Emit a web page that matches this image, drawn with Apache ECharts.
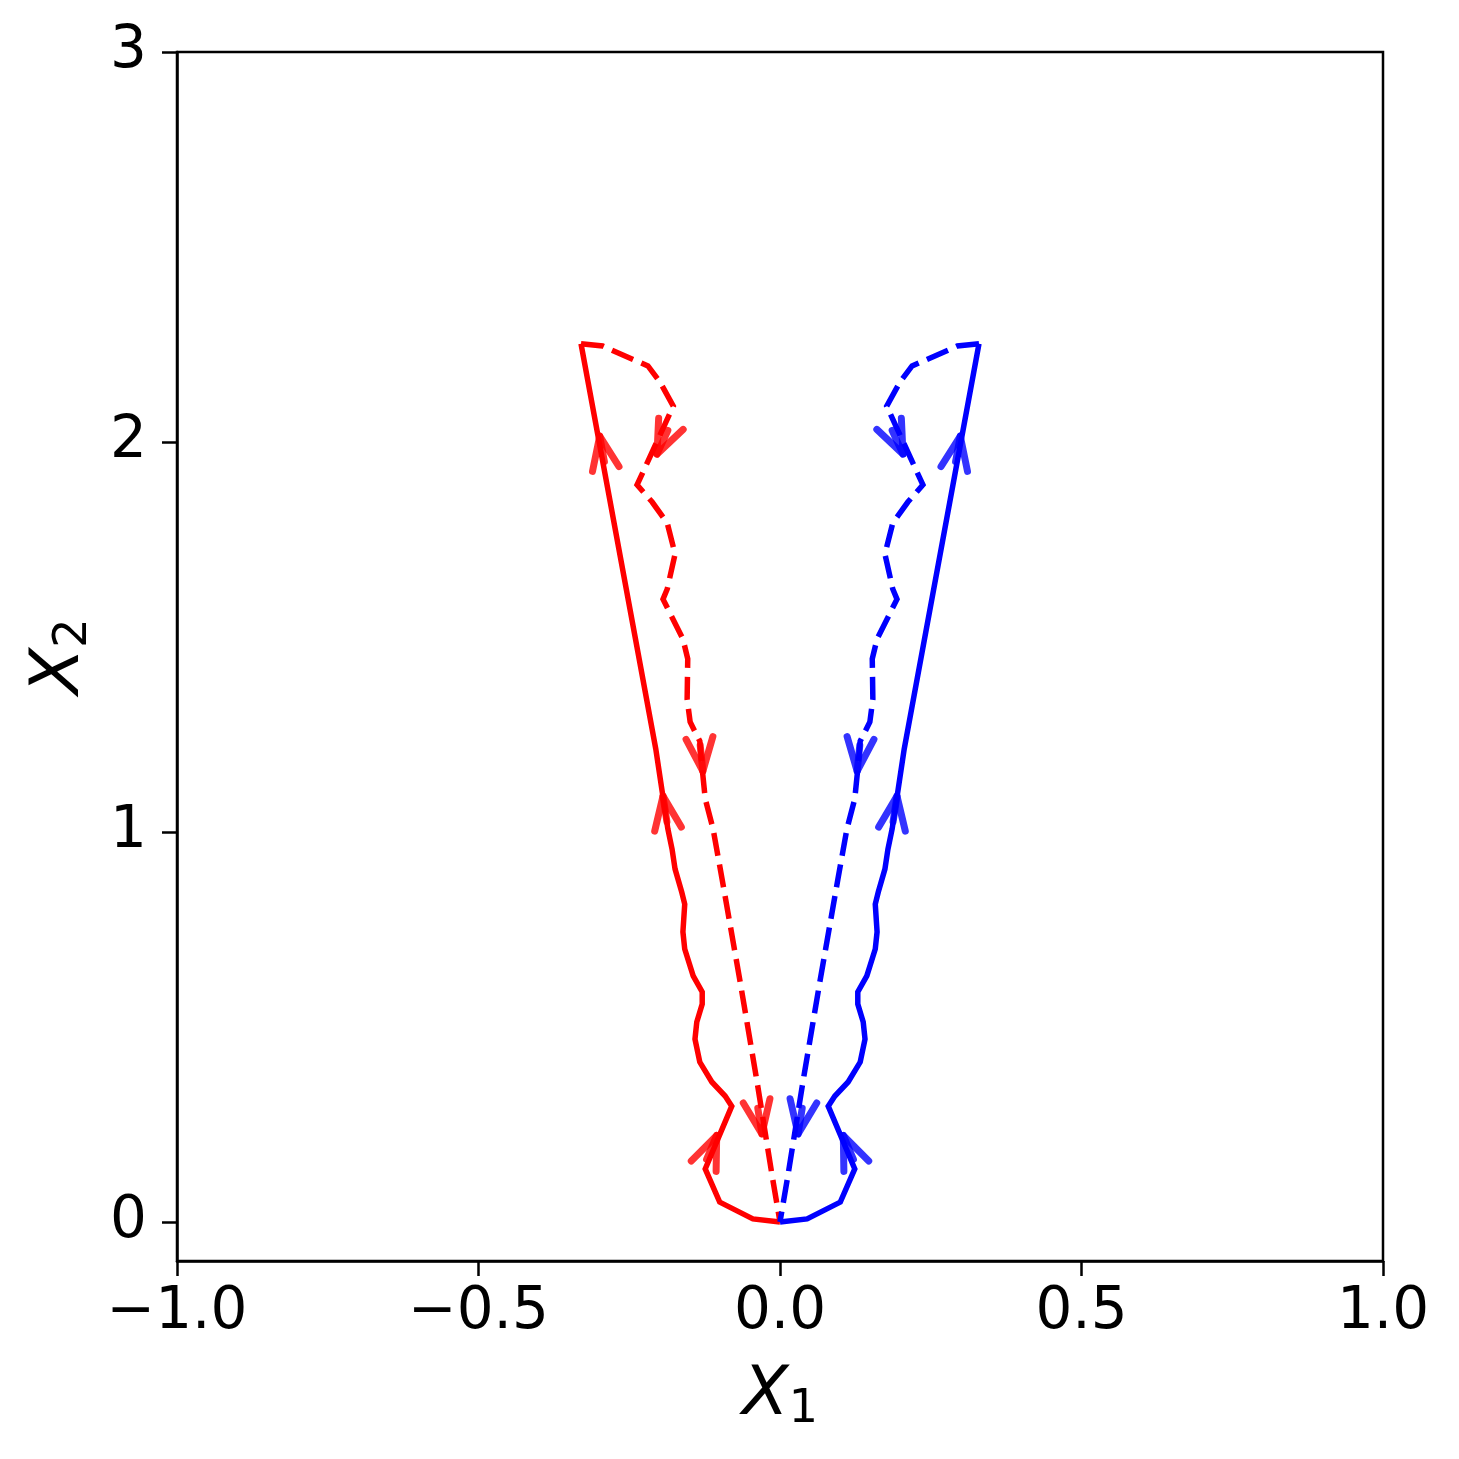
<!DOCTYPE html>
<html>
<head>
<meta charset="utf-8">
<script src="https://cdn.jsdelivr.net/npm/echarts@6/dist/echarts.min.js"></script>
<style>
  html, body { margin: 0; padding: 0; background: #fff; }
  #chart { width: 1459px; height: 1459px; }
</style>
</head>
<body>
<div id="chart"></div>
<script>
// red trajectory: solid goes out from the origin, dashed comes back
const redSolid = [
  [0, 0], [-0.045, 0.008], [-0.100, 0.051], [-0.124, 0.136], [-0.080, 0.297],
  [-0.091, 0.323], [-0.113, 0.359], [-0.133, 0.410], [-0.141, 0.469], [-0.138, 0.513],
  [-0.129, 0.559], [-0.129, 0.590], [-0.144, 0.631], [-0.158, 0.700], [-0.161, 0.744],
  [-0.158, 0.815], [-0.163, 0.846], [-0.174, 0.905], [-0.179, 0.956], [-0.186, 1.008],
  [-0.196, 1.110], [-0.206, 1.213], [-0.330, 2.252]
]
const redDashed = [
  [-0.330, 2.252], [-0.294, 2.246], [-0.219, 2.195], [-0.199, 2.154], [-0.177, 2.092],
  [-0.237, 1.890], [-0.212, 1.846], [-0.187, 1.792], [-0.174, 1.713], [-0.187, 1.623],
  [-0.194, 1.597], [-0.161, 1.495], [-0.153, 1.444], [-0.154, 1.341], [-0.149, 1.282],
  [-0.133, 1.233], [-0.129, 1.162], [-0.124, 1.085], [-0.111, 1.008], [-0.096, 0.879],
  [-0.066, 0.615], [-0.038, 0.359], [-0.013, 0.118], [0, 0]
]
// blue trajectory (mirror image on the right)
const blueSolid = [
  [0, 0], [0.045, 0.008], [0.100, 0.051], [0.124, 0.136], [0.080, 0.297],
  [0.091, 0.323], [0.113, 0.359], [0.133, 0.410], [0.141, 0.469], [0.138, 0.513],
  [0.129, 0.559], [0.129, 0.590], [0.144, 0.631], [0.158, 0.700], [0.161, 0.744],
  [0.158, 0.815], [0.163, 0.846], [0.174, 0.905], [0.179, 0.956], [0.186, 1.008],
  [0.196, 1.110], [0.206, 1.213], [0.330, 2.252]
]
const blueDashed = [
  [0.330, 2.252], [0.294, 2.246], [0.219, 2.195], [0.199, 2.154], [0.177, 2.092],
  [0.237, 1.890], [0.212, 1.846], [0.187, 1.792], [0.174, 1.713], [0.187, 1.623],
  [0.194, 1.597], [0.161, 1.495], [0.153, 1.444], [0.154, 1.341], [0.149, 1.282],
  [0.133, 1.233], [0.129, 1.162], [0.124, 1.085], [0.111, 1.008], [0.096, 0.879],
  [0.066, 0.615], [0.038, 0.359], [0.013, 0.118], [0, 0]
]
// arrow tips along each path
const redSolidArrows = [[-0.105, 0.222], [-0.194, 1.092], [-0.299, 2.015]]
const redDashedArrows = [[-0.204, 1.969], [-0.128, 1.156], [-0.030, 0.226]]
const blueSolidArrows = [[0.105, 0.222], [0.194, 1.092], [0.299, 2.015]]
const blueDashedArrows = [[0.204, 1.969], [0.128, 1.156], [0.030, 0.226]]

const yTicks = [0, 1, 2, 3]

const FONT = 'DejaVu Sans'
const HEAD = 36
const SHAFT = 26
const HALF_ANGLE = 22 * Math.PI / 180

function segDist(p, a, b) {
  const vx = b[0] - a[0], vy = b[1] - a[1]
  const l2 = vx * vx + vy * vy || 1
  let t = ((p[0] - a[0]) * vx + (p[1] - a[1]) * vy) / l2
  t = Math.max(0, Math.min(1, t))
  return Math.hypot(p[0] - a[0] - t * vx, p[1] - a[1] - t * vy)
}

function lineSeries(data, color, dashed) {
  return {
    type: 'line',
    data: data,
    showSymbol: false,
    silent: true,
    z: dashed ? 3 : 2,
    lineStyle: {
      color: color,
      width: 5.5,
      type: dashed ? [23, 9] : 'solid',
      cap: 'butt',
      join: 'miter'
    }
  }
}

function arrowSeries(path, tips, color) {
  return {
    type: 'custom',
    coordinateSystem: 'cartesian2d',
    data: tips,
    silent: true,
    z: 5,
    encode: { x: 0, y: 1 },
    renderItem: function (params, api) {
      const tip = api.coord([api.value(0), api.value(1)])
      const pts = path.map(p => api.coord(p))
      // direction of the nearest path segment
      let best = 0
      let bestD = Infinity
      for (let i = 0; i < pts.length - 1; i++) {
        const d = segDist(tip, pts[i], pts[i + 1])
        if (d < bestD) { bestD = d; best = i }
      }
      let dx = pts[best + 1][0] - pts[best][0]
      let dy = pts[best + 1][1] - pts[best][1]
      const len = Math.hypot(dx, dy) || 1
      dx /= len
      dy /= len
      const wing = s => {
        const c = Math.cos(s * HALF_ANGLE), sn = Math.sin(s * HALF_ANGLE)
        const bx = -dx * c + dy * sn
        const by = -dx * sn - dy * c
        return [tip[0] + bx * HEAD, tip[1] + by * HEAD]
      }
      const style = { stroke: color, lineWidth: 7, fill: 'none', lineCap: 'round', lineJoin: 'round', opacity: 0.8 }
      return {
        type: 'group',
        children: [
          { type: 'polyline', shape: { points: [wing(1), tip, wing(-1)] }, style: style },
          { type: 'line', shape: { x1: tip[0] - dx * SHAFT, y1: tip[1] - dy * SHAFT, x2: tip[0], y2: tip[1] }, style: style }
        ]
      }
    }
  }
}

// italic X with a lowered subscript
const nameRich = {
  i: { fontSize: 68, fontStyle: 'italic', fontFamily: FONT, color: '#000' },
  s: { fontSize: 46, fontFamily: FONT, color: '#000', padding: [28, 0, 0, 0] }
}

const chart = echarts.init(document.getElementById('chart'))
chart.setOption({
  animation: false,
  backgroundColor: '#fff',
  grid: {
    left: 177, right: 76, top: 52, bottom: 198,
    show: true, borderColor: '#000', borderWidth: 2.5, backgroundColor: 'transparent'
  },
  xAxis: {
    type: 'value',
    min: -1, max: 1, interval: 0.5,
    name: '{i|X}{s|1}',
    nameLocation: 'middle',
    nameGap: 98,
    nameTextStyle: { rich: nameRich },
    axisLine: { show: true, onZero: false, lineStyle: { color: '#000', width: 2.5 } },
    axisTick: { show: true, inside: false, length: 15, lineStyle: { color: '#000', width: 2.5 } },
    splitLine: { show: false },
    axisLabel: {
      fontSize: 58, fontFamily: FONT, color: '#000', margin: 23,
      formatter: v => v.toFixed(1).replace('-', '\u2212')
    }
  },
  yAxis: {
    type: 'value',
    min: -0.1, max: 3,
    name: '{i|X}{s|2}',
    nameLocation: 'middle',
    nameGap: 80,
    nameTextStyle: { rich: nameRich },
    axisLine: { show: true, onZero: false, lineStyle: { color: '#000', width: 2.5 } },
    axisTick: { show: true, inside: false, length: 15, customValues: yTicks, lineStyle: { color: '#000', width: 2.5 } },
    splitLine: { show: false },
    axisLabel: {
      fontSize: 58, fontFamily: FONT, color: '#000', margin: 30,
      customValues: yTicks,
      formatter: v => String(v)
    }
  },
  series: [
    lineSeries(redSolid, '#ff0000', false),
    lineSeries(redDashed, '#ff0000', true),
    lineSeries(blueSolid, '#0000ff', false),
    lineSeries(blueDashed, '#0000ff', true),
    arrowSeries(redSolid, redSolidArrows, '#ff0000'),
    arrowSeries(redDashed, redDashedArrows, '#ff0000'),
    arrowSeries(blueSolid, blueSolidArrows, '#0000ff'),
    arrowSeries(blueDashed, blueDashedArrows, '#0000ff')
  ]
})
</script>
</body>
</html>
